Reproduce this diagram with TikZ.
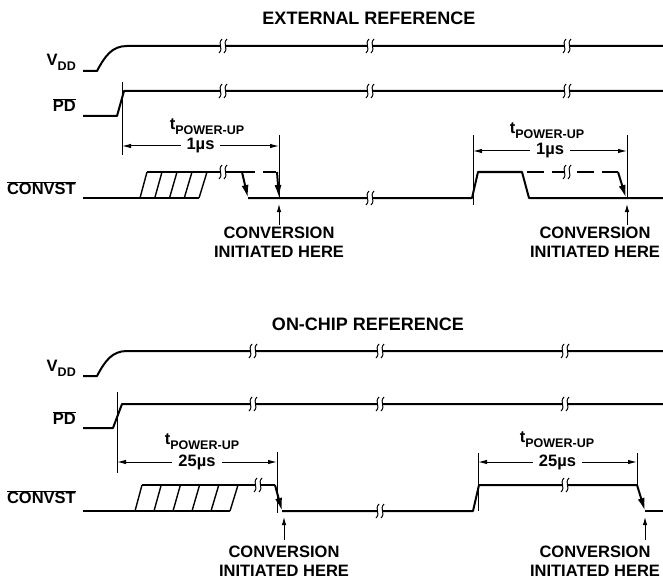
\documentclass[tikz,border=0pt]{standalone}
\usepackage{fontspec}
\setmainfont{Liberation Sans}
\usetikzlibrary{
	arrows.meta,
	positioning
}

\newcommand{\ovl}[1]{$\overline{\hbox{#1}}$}
\newcommand{\lowtxt}[1]{\raisebox{-0.3em}{\fontsize{12.5}{13}\selectfont #1}}

\tikzset{
	brk/.pic={
		\fill[white] (-2.5,-2) rectangle (2.5,2);
		\foreach \d in {-2.5,2.5}
			\draw[line width=1pt] (\d+1.5,-7) .. controls (\d-3.5,-2) and (\d+3.5,2) .. (\d-1.5,7);
	}
}

\begin{document}
\begin{tikzpicture}[x=1pt,y=-1pt,
		sig/.style={line width=2pt,line join=round},
		hat/.style={line width=1.4pt},
		tck/.style={line width=1pt},
		dim/.style={line width=1pt,{Latex[length=9,width=4.5]}-{Latex[length=9,width=4.5]}},
		dwn/.style={sig,-{Latex[length=13,width=7]}},
		upa/.style={line width=1pt,-{Latex[length=8,width=4.5]}},
		txt/.style={font=\bfseries\fontsize{16.5}{19}\selectfont,inner sep=0pt},
		ttl/.style={font=\bfseries\fontsize{18}{21}\selectfont,inner sep=0pt},
		sym/.style={txt,anchor=east},
		note/.style={txt,align=center,anchor=north}
	]
	\useasboundingbox (0,0) rectangle (663,580);

	% ---- external reference
	\node[ttl] (ttlA) at (369,18) {EXTERNAL REFERENCE};
	\node[sym] (vddA) at (76,62)  {V\lowtxt{DD}};
	\node[sym] (pdA)  at (76,105) {\ovl{PD}};
	\node[sym] (cvA)  at (76,188) {\ovl{CONVST}};

	\draw[sig] (83,71) -- (97,71) .. controls (105,56) and (112,46) .. (127,46) -- (663,46);
	\draw[sig] (83,116) -- (117,116) -- (124,91) -- (663,91);

	\draw[sig] (83,198) -- (199,198);
	\draw[sig] (147,172) -- (242,172);
	\foreach \i in {0,...,4}
		\draw[hat] ({140+14.75*\i},198) -- ({147+15*\i},172);
	\draw[dwn] (242,172) -- (248,198);
	\draw[sig,dash pattern=on 13pt off 8pt] (242,172) -- (277,172);
	\draw[dwn] (277,172) -- (279,198);
	\draw[sig] (248,198) -- (472,198) -- (478,172) -- (522,172) -- (529,198) -- (663,198);
	\draw[sig,dash pattern=on 17pt off 8pt] (527,172) -- (618,172);
	\draw[dwn] (618,172) -- (626,198);

	\foreach \x/\y in {223/46,370/46,567/46,223/91,370/91,567/91,223/172,370/198,567/172}
		\pic at (\x,\y) {brk};

	\coordinate (tA1) at (122,146);
	\coordinate (tA2) at (279,146);
	\coordinate (tB1) at (473,151);
	\coordinate (tB2) at (627,151);
	\draw[tck] (122,82) -- (122,155);
	\draw[tck] (279,135) -- (279,198);
	\draw[tck] (473,135) -- (473,205);
	\draw[tck] (627,135) -- (627,198);
	\node[txt] (tpA) at (207,127) {t\lowtxt{POWER-UP}};
	\node[txt] (tpB) at (547,131) {t\lowtxt{POWER-UP}};
	\draw[dim] (tA1) -- node[txt,fill=white,inner xsep=6pt] (usA) {1µs} (tA2);
	\draw[dim] (tB1) -- node[txt,fill=white,inner xsep=6pt] (usB) {1µs} (tB2);

	\coordinate (pA) at (279,204);
	\coordinate (pB) at (627,204);
	\node[note] (cnvA) at (279,227) {CONVERSION\\INITIATED HERE};
	\node[note] (cnvB) at (595,227) {CONVERSION\\INITIATED HERE};
	\draw[upa] ([yshift=2pt]pA |- cnvA.north) -- (pA);
	\draw[upa] ([yshift=2pt]pB |- cnvB.north) -- (pB);

	% ---- on-chip reference
	\node[ttl] (ttlB) at (368,324) {ON-CHIP REFERENCE};
	\node[sym] (vddB) at (76,368) {V\lowtxt{DD}};
	\node[sym] (pdB)  at (76,418) {\ovl{PD}};
	\node[sym] (cvB)  at (76,497) {\ovl{CONVST}};

	\draw[sig] (83,376) -- (97,376) .. controls (105,361) and (112,351) .. (127,351) -- (663,351);
	\draw[sig] (83,428) -- (113,428) -- (122,404) -- (663,404);

	\draw[sig] (83,511) -- (230,511);
	\draw[sig] (142,485) -- (275,485);
	\foreach \i in {0,...,5}
		\draw[hat] ({135+19*\i},511) -- ({142+19.2*\i},485);
	\draw[dwn] (275,485) -- (282,511);
	\draw[sig] (282,511) -- (473,511) -- (479,485) -- (637,485);
	\draw[dwn] (637,485) -- (645,511);
	\draw[sig] (645,511) -- (663,511);

	\foreach \x/\y in {253/351,380/351,565/351,253/404,380/404,565/404,258/485,380/511,565/485}
		\pic at (\x,\y) {brk};

	\coordinate (tC1) at (117,462);
	\coordinate (tC2) at (277,462);
	\coordinate (tD1) at (478,462);
	\coordinate (tD2) at (637,462);
	\draw[tck] (117,392) -- (117,473);
	\draw[tck] (277,452) -- (277,513);
	\draw[tck] (478,453) -- (478,511);
	\draw[tck] (637,453) -- (637,485);
	\node[txt] (tpC) at (202,442) {t\lowtxt{POWER-UP}};
	\node[txt] (tpD) at (557,440) {t\lowtxt{POWER-UP}};
	\draw[dim] (tC1) -- node[txt,fill=white,inner xsep=6pt] (usC) {25µs} (tC2);
	\draw[dim] (tD1) -- node[txt,fill=white,inner xsep=6pt] (usD) {25µs} (tD2);

	\coordinate (pC) at (284,517);
	\coordinate (pD) at (645,517);
	\node[note] (cnvC) at (284,546) {CONVERSION\\INITIATED HERE};
	\node[note] (cnvD) at (595,546) {CONVERSION\\INITIATED HERE};
	\draw[upa] ([yshift=6pt]pC |- cnvC.north) -- (pC);
	\draw[upa] ([yshift=6pt]pD |- cnvD.north) -- (pD);
\end{tikzpicture}
\end{document}
